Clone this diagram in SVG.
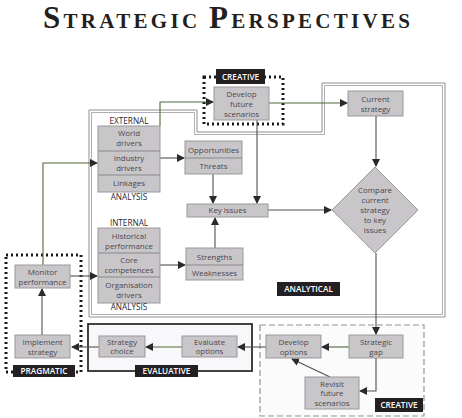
<svg xmlns="http://www.w3.org/2000/svg" width="462" height="418" viewBox="0 0 462 418">
<defs>
<marker id="ah" markerWidth="8" markerHeight="8" refX="7" refY="4" orient="auto" markerUnits="userSpaceOnUse">
<path d="M0,0 L8,4 L0,8 Z" fill="#2a2a2a"/>
</marker>
<style>
.box{fill:#c8c6c9;stroke:#9a989b;stroke-width:1}
.div{stroke:#8a888b;stroke-width:1}
.t{font-family:"Open Sans","Noto Sans",sans-serif;font-size:7.9px;fill:#4a4650;text-anchor:middle}
.lbl{font-family:"Open Sans","Noto Sans",sans-serif;font-size:8.2px;fill:#2a2630;text-anchor:middle}
.tag{fill:#231f22}
.tagt{font-family:"Open Sans","Noto Sans",sans-serif;font-size:8.2px;fill:#ffffff;text-anchor:middle;font-weight:600}
.c{fill:none;stroke:#505050;stroke-width:1.1;marker-end:url(#ah)}
.cg{fill:none;stroke:#4e6a3a;stroke-width:1.1;marker-end:url(#ah)}
.dot{fill:none;stroke:#1a1a1a;stroke-width:3;stroke-dasharray:2 3}
</style>
</defs>
<rect width="462" height="418" fill="#ffffff"/>

<text x="43" y="28" textLength="367" lengthAdjust="spacing" font-family="'Liberation Serif',serif" font-weight="bold" fill="#231f20"><tspan font-size="31">S</tspan><tspan font-size="21">TRATEGIC </tspan><tspan font-size="31">P</tspan><tspan font-size="21">ERSPECTIVES</tspan></text>

<g id="frame-analytical">
<polygon points="89,110 197,110 197,132 322,132 322,83 445,83 445,317 89,317" fill="none" stroke="#8e8c90" stroke-width="1"/>
<polygon points="91.5,112.5 194.5,112.5 194.5,134.5 324.5,134.5 324.5,85.5 442.5,85.5 442.5,314.5 91.5,314.5" fill="none" stroke="#b0aeb2" stroke-width="1"/>
<rect class="tag" x="277" y="282" width="63" height="14"/>
<text class="tagt" x="308.5" y="292.3">ANALYTICAL</text>
</g>

<g id="frame-creative-top">
<rect class="dot" x="204" y="77" width="79" height="47"/>
<rect class="tag" x="216" y="69" width="49" height="15"/>
<text class="tagt" x="240.5" y="79.8">CREATIVE</text>
</g>

<g id="frame-creative-bottom">
<rect x="260" y="325" width="164" height="91" fill="#fbfbfc" stroke="#8e9a88" stroke-width="1.2" stroke-dasharray="6 3"/>
<rect class="tag" x="375" y="398" width="48" height="14"/>
<text class="tagt" x="399" y="408.3">CREATIVE</text>
</g>

<g id="frame-evaluative">
<rect x="88" y="324" width="164" height="47" fill="#f8f7fa" stroke="#2e2e2e" stroke-width="1.8"/>
<rect class="tag" x="135" y="365" width="63" height="12"/>
<text class="tagt" x="166.5" y="374.2">EVALUATIVE</text>
</g>

<g id="frame-pragmatic">
<rect class="dot" x="6" y="255" width="75" height="117"/>
<rect class="tag" x="13" y="365" width="62" height="12"/>
<text class="tagt" x="44" y="374.2">PRAGMATIC</text>
</g>

<g id="connectors">
<path class="cg" d="M160,126 V102 H213"/>
<path class="cg" d="M269,103 H347"/>
<path class="c" d="M376,116 V166"/>
<path class="c" d="M160,158 H184"/>
<path class="c" d="M213,174 V203"/>
<path class="c" d="M257,120 V203"/>
<path class="c" d="M268,210 H331"/>
<path class="c" d="M160,265 H185"/>
<path class="c" d="M215,248 V218"/>
<path class="c" d="M376,253 V334"/>
<path class="cg" d="M349,347 H322"/>
<path class="c" d="M376,358 V391 H360"/>
<path class="c" d="M330,377 L292,359"/>
<path class="c" d="M266,347 H238"/>
<path class="cg" d="M182,347 H146"/>
<path class="c" d="M99,347 H72"/>
<path class="c" d="M42,335 V289"/>
<path class="c" d="M70,276 H97"/>
<path class="cg" d="M43,265 V163 H97"/>
</g>

<g id="develop-future-scenarios">
<rect class="box" x="214" y="87" width="55" height="33"/>
<text class="t" x="241.5" y="97">Develop</text>
<text class="t" x="241.5" y="107">future</text>
<text class="t" x="241.5" y="117">scenarios</text>
</g>

<g id="current-strategy">
<rect class="box" x="348" y="91" width="55" height="25"/>
<text class="t" x="375.5" y="101.5">Current</text>
<text class="t" x="375.5" y="111.5">strategy</text>
</g>

<g id="external">
<text class="lbl" x="129" y="124">EXTERNAL</text>
<rect class="box" x="98" y="126" width="62" height="66"/>
<line class="div" x1="98" y1="151" x2="160" y2="151"/>
<line class="div" x1="98" y1="175" x2="160" y2="175"/>
<text class="t" x="129" y="136">World</text>
<text class="t" x="129" y="146">drivers</text>
<text class="t" x="129" y="161">Industry</text>
<text class="t" x="129" y="171">drivers</text>
<text class="t" x="129" y="186">Linkages</text>
<text class="lbl" x="129" y="200">ANALYSIS</text>
</g>

<g id="opportunities-threats">
<rect class="box" x="185" y="141" width="57" height="33"/>
<line class="div" x1="185" y1="158" x2="242" y2="158"/>
<text class="t" x="213.5" y="152.5">Opportunities</text>
<text class="t" x="213.5" y="169">Threats</text>
</g>

<g id="key-issues">
<rect class="box" x="187" y="204" width="81" height="13"/>
<text class="t" x="227.5" y="213.3">Key issues</text>
</g>

<g id="compare">
<polygon points="375,167 418,210 375,253 332,210" fill="#c8c6c9" stroke="#9a989b" stroke-width="1"/>
<text class="t" x="375" y="193">Compare</text>
<text class="t" x="375" y="203">current</text>
<text class="t" x="375" y="213">strategy</text>
<text class="t" x="375" y="223">to key</text>
<text class="t" x="375" y="233">issues</text>
</g>

<g id="internal">
<text class="lbl" x="129" y="226">INTERNAL</text>
<rect class="box" x="98" y="228" width="62" height="75"/>
<line class="div" x1="98" y1="253" x2="160" y2="253"/>
<line class="div" x1="98" y1="277" x2="160" y2="277"/>
<text class="t" x="129" y="239">Historical</text>
<text class="t" x="129" y="249">performance</text>
<text class="t" x="129" y="263">Core</text>
<text class="t" x="129" y="273">competences</text>
<text class="t" x="129" y="288">Organisation</text>
<text class="t" x="129" y="298">drivers</text>
<text class="lbl" x="129" y="310">ANALYSIS</text>
</g>

<g id="strengths-weaknesses">
<rect class="box" x="186" y="248" width="57" height="32"/>
<line class="div" x1="186" y1="265" x2="243" y2="265"/>
<text class="t" x="214.5" y="259.5">Strengths</text>
<text class="t" x="214.5" y="276">Weaknesses</text>
</g>

<g id="strategic-gap">
<rect class="box" x="349" y="335" width="54" height="23"/>
<text class="t" x="376" y="344.5">Strategic</text>
<text class="t" x="376" y="354.5">gap</text>
</g>

<g id="develop-options">
<rect class="box" x="266" y="335" width="55" height="23"/>
<text class="t" x="293.5" y="344.5">Develop</text>
<text class="t" x="293.5" y="354.5">options</text>
</g>

<g id="revisit-future-scenarios">
<rect class="box" x="305" y="377" width="54" height="32"/>
<text class="t" x="332" y="386.5">Revisit</text>
<text class="t" x="332" y="396.3">future</text>
<text class="t" x="332" y="406">scenarios</text>
</g>

<g id="evaluate-options">
<rect class="box" x="182" y="336" width="55" height="21"/>
<text class="t" x="209.5" y="344.5">Evaluate</text>
<text class="t" x="209.5" y="354.2">options</text>
</g>

<g id="strategy-choice">
<rect class="box" x="99" y="336" width="46" height="21"/>
<text class="t" x="122" y="344.5">Strategy</text>
<text class="t" x="122" y="354.2">choice</text>
</g>

<g id="implement-strategy">
<rect class="box" x="15" y="335" width="55" height="23"/>
<text class="t" x="42.5" y="344.5">Implement</text>
<text class="t" x="42.5" y="354.5">strategy</text>
</g>

<g id="monitor-performance">
<rect class="box" x="15" y="265" width="55" height="23"/>
<text class="t" x="42.5" y="274.5">Monitor</text>
<text class="t" x="42.5" y="284.5">performance</text>
</g>
</svg>
